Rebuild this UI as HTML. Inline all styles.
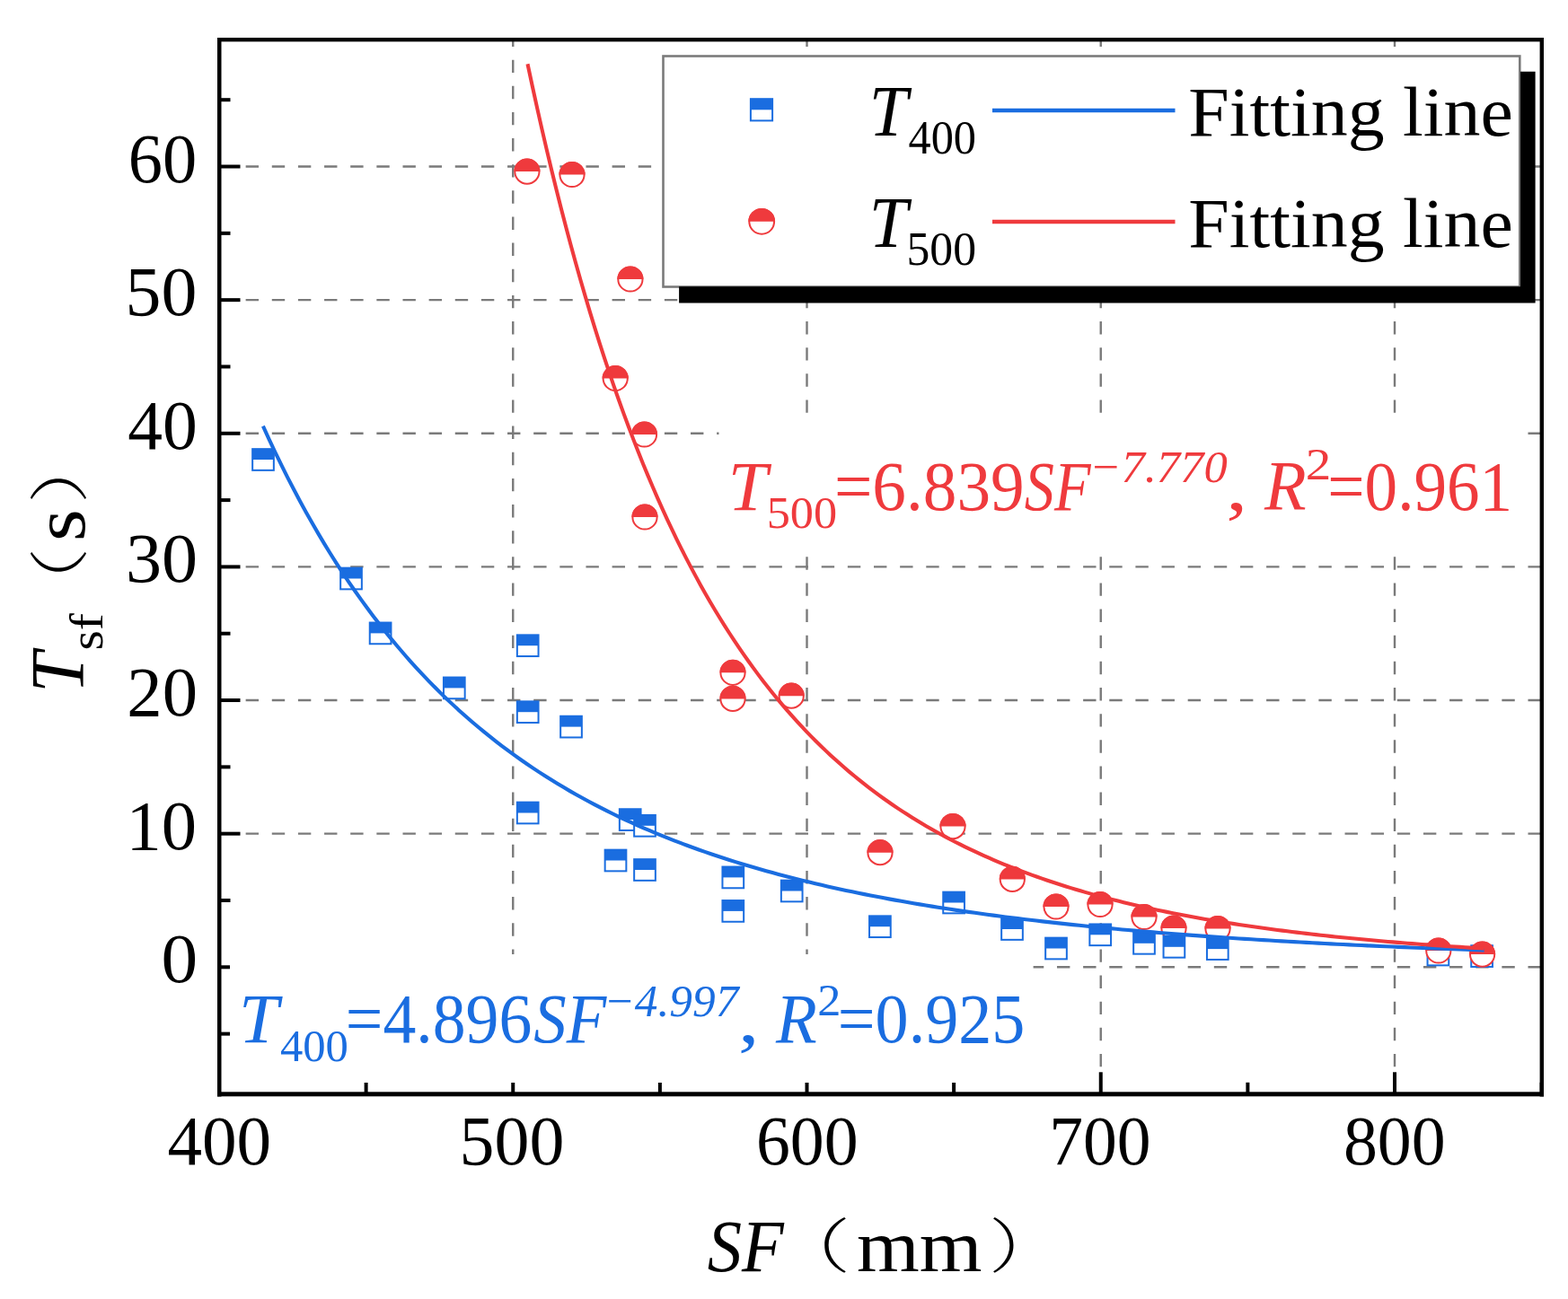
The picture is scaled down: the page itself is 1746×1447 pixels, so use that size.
<!DOCTYPE html>
<html><head><meta charset="utf-8"><title>T_sf vs SF</title>
<style>html,body{margin:0;padding:0;background:#fff;width:1746px;height:1447px;overflow:hidden}text{font-kerning:none;font-variant-ligatures:none}</style>
</head><body>
<svg width="1746" height="1447" viewBox="0 0 1746 1447" style="display:block;font-kerning:none">
<rect x="0" y="0" width="1746" height="1447" fill="#fff"/>
<g stroke="#7a7a7a" stroke-width="2.4" stroke-dasharray="14.4 14.74" fill="none">
<path d="M244.5 1077.30H1716.6"/>
<path d="M244.5 928.67H1716.6"/>
<path d="M244.5 780.04H1716.6"/>
<path d="M244.5 631.41H1716.6"/>
<path d="M244.5 482.78H1716.6"/>
<path d="M244.5 334.15H1716.6"/>
<path d="M244.5 185.52H1716.6"/>
<path d="M571.25 1217.5V44"/>
<path d="M898.50 1217.5V44"/>
<path d="M1225.75 1217.5V44"/>
<path d="M1553.00 1217.5V44"/>
</g>
<g fill="#000">
<rect x="244" y="1149.62" width="12.50" height="4"/>
<rect x="244" y="1075.30" width="23.50" height="4"/>
<rect x="244" y="1000.98" width="12.50" height="4"/>
<rect x="244" y="926.67" width="23.50" height="4"/>
<rect x="244" y="852.36" width="12.50" height="4"/>
<rect x="244" y="778.04" width="23.50" height="4"/>
<rect x="244" y="703.72" width="12.50" height="4"/>
<rect x="244" y="629.41" width="23.50" height="4"/>
<rect x="244" y="555.10" width="12.50" height="4"/>
<rect x="244" y="480.78" width="23.50" height="4"/>
<rect x="244" y="406.46" width="12.50" height="4"/>
<rect x="244" y="332.15" width="23.50" height="4"/>
<rect x="244" y="257.84" width="12.50" height="4"/>
<rect x="244" y="183.52" width="23.50" height="4"/>
<rect x="244" y="109.20" width="12.50" height="4"/>
<rect x="242.00" y="1194.30" width="4" height="24.00"/>
<rect x="405.62" y="1205.80" width="4" height="12.50"/>
<rect x="569.25" y="1194.30" width="4" height="24.00"/>
<rect x="732.88" y="1205.80" width="4" height="12.50"/>
<rect x="896.50" y="1194.30" width="4" height="24.00"/>
<rect x="1060.12" y="1205.80" width="4" height="12.50"/>
<rect x="1223.75" y="1194.30" width="4" height="24.00"/>
<rect x="1387.38" y="1205.80" width="4" height="12.50"/>
<rect x="1551.00" y="1194.30" width="4" height="24.00"/>
<rect x="1714.62" y="1205.80" width="4" height="12.50"/>
</g>
<rect x="800.5" y="465" width="892.5" height="147" fill="#fff"/>
<rect x="256" y="1063" width="894.6" height="143" fill="#fff"/>
<g><rect x="281.15" y="500.15" width="23.70" height="23.70" fill="#fff" stroke="#1a6de0" stroke-width="2"/><rect x="281.15" y="500.15" width="23.70" height="11.85" fill="#1a6de0"/></g>
<g><rect x="379.15" y="632.65" width="23.70" height="23.70" fill="#fff" stroke="#1a6de0" stroke-width="2"/><rect x="379.15" y="632.65" width="23.70" height="11.85" fill="#1a6de0"/></g>
<g><rect x="411.75" y="693.55" width="23.70" height="23.70" fill="#fff" stroke="#1a6de0" stroke-width="2"/><rect x="411.75" y="693.55" width="23.70" height="11.85" fill="#1a6de0"/></g>
<g><rect x="493.95" y="754.55" width="23.70" height="23.70" fill="#fff" stroke="#1a6de0" stroke-width="2"/><rect x="493.95" y="754.55" width="23.70" height="11.85" fill="#1a6de0"/></g>
<g><rect x="575.85" y="707.35" width="23.70" height="23.70" fill="#fff" stroke="#1a6de0" stroke-width="2"/><rect x="575.85" y="707.35" width="23.70" height="11.85" fill="#1a6de0"/></g>
<g><rect x="575.85" y="781.35" width="23.70" height="23.70" fill="#fff" stroke="#1a6de0" stroke-width="2"/><rect x="575.85" y="781.35" width="23.70" height="11.85" fill="#1a6de0"/></g>
<g><rect x="624.15" y="797.75" width="23.70" height="23.70" fill="#fff" stroke="#1a6de0" stroke-width="2"/><rect x="624.15" y="797.75" width="23.70" height="11.85" fill="#1a6de0"/></g>
<g><rect x="575.85" y="893.65" width="23.70" height="23.70" fill="#fff" stroke="#1a6de0" stroke-width="2"/><rect x="575.85" y="893.65" width="23.70" height="11.85" fill="#1a6de0"/></g>
<g><rect x="689.85" y="901.25" width="23.70" height="23.70" fill="#fff" stroke="#1a6de0" stroke-width="2"/><rect x="689.85" y="901.25" width="23.70" height="11.85" fill="#1a6de0"/></g>
<g><rect x="706.15" y="907.95" width="23.70" height="23.70" fill="#fff" stroke="#1a6de0" stroke-width="2"/><rect x="706.15" y="907.95" width="23.70" height="11.85" fill="#1a6de0"/></g>
<g><rect x="673.65" y="946.65" width="23.70" height="23.70" fill="#fff" stroke="#1a6de0" stroke-width="2"/><rect x="673.65" y="946.65" width="23.70" height="11.85" fill="#1a6de0"/></g>
<g><rect x="706.15" y="957.15" width="23.70" height="23.70" fill="#fff" stroke="#1a6de0" stroke-width="2"/><rect x="706.15" y="957.15" width="23.70" height="11.85" fill="#1a6de0"/></g>
<g><rect x="804.45" y="965.55" width="23.70" height="23.70" fill="#fff" stroke="#1a6de0" stroke-width="2"/><rect x="804.45" y="965.55" width="23.70" height="11.85" fill="#1a6de0"/></g>
<g><rect x="804.45" y="1003.05" width="23.70" height="23.70" fill="#fff" stroke="#1a6de0" stroke-width="2"/><rect x="804.45" y="1003.05" width="23.70" height="11.85" fill="#1a6de0"/></g>
<g><rect x="869.85" y="980.65" width="23.70" height="23.70" fill="#fff" stroke="#1a6de0" stroke-width="2"/><rect x="869.85" y="980.65" width="23.70" height="11.85" fill="#1a6de0"/></g>
<g><rect x="968.05" y="1020.35" width="23.70" height="23.70" fill="#fff" stroke="#1a6de0" stroke-width="2"/><rect x="968.05" y="1020.35" width="23.70" height="11.85" fill="#1a6de0"/></g>
<g><rect x="1050.25" y="993.65" width="23.70" height="23.70" fill="#fff" stroke="#1a6de0" stroke-width="2"/><rect x="1050.25" y="993.65" width="23.70" height="11.85" fill="#1a6de0"/></g>
<g><rect x="1115.15" y="1023.15" width="23.70" height="23.70" fill="#fff" stroke="#1a6de0" stroke-width="2"/><rect x="1115.15" y="1023.15" width="23.70" height="11.85" fill="#1a6de0"/></g>
<g><rect x="1164.15" y="1044.65" width="23.70" height="23.70" fill="#fff" stroke="#1a6de0" stroke-width="2"/><rect x="1164.15" y="1044.65" width="23.70" height="11.85" fill="#1a6de0"/></g>
<g><rect x="1213.35" y="1029.45" width="23.70" height="23.70" fill="#fff" stroke="#1a6de0" stroke-width="2"/><rect x="1213.35" y="1029.45" width="23.70" height="11.85" fill="#1a6de0"/></g>
<g><rect x="1262.15" y="1038.95" width="23.70" height="23.70" fill="#fff" stroke="#1a6de0" stroke-width="2"/><rect x="1262.15" y="1038.95" width="23.70" height="11.85" fill="#1a6de0"/></g>
<g><rect x="1589.55" y="1051.65" width="23.70" height="23.70" fill="#fff" stroke="#1a6de0" stroke-width="2"/><rect x="1589.55" y="1051.65" width="23.70" height="11.85" fill="#1a6de0"/></g>
<g><rect x="1638.25" y="1053.25" width="23.70" height="23.70" fill="#fff" stroke="#1a6de0" stroke-width="2"/><rect x="1638.25" y="1053.25" width="23.70" height="11.85" fill="#1a6de0"/></g>
<g><circle cx="586.90" cy="191.10" r="13.60" fill="#fff" stroke="#ef3a3d" stroke-width="2"/><path d="M572.30 191.10A14.60 14.60 0 0 1 601.50 191.10Z" fill="#ef3a3d"/></g>
<g><circle cx="637.00" cy="194.50" r="13.60" fill="#fff" stroke="#ef3a3d" stroke-width="2"/><path d="M622.40 194.50A14.60 14.60 0 0 1 651.60 194.50Z" fill="#ef3a3d"/></g>
<g><circle cx="701.90" cy="311.00" r="13.60" fill="#fff" stroke="#ef3a3d" stroke-width="2"/><path d="M687.30 311.00A14.60 14.60 0 0 1 716.50 311.00Z" fill="#ef3a3d"/></g>
<g><circle cx="685.20" cy="421.50" r="13.60" fill="#fff" stroke="#ef3a3d" stroke-width="2"/><path d="M670.60 421.50A14.60 14.60 0 0 1 699.80 421.50Z" fill="#ef3a3d"/></g>
<g><circle cx="717.50" cy="484.00" r="13.60" fill="#fff" stroke="#ef3a3d" stroke-width="2"/><path d="M702.90 484.00A14.60 14.60 0 0 1 732.10 484.00Z" fill="#ef3a3d"/></g>
<g><circle cx="718.00" cy="576.00" r="13.60" fill="#fff" stroke="#ef3a3d" stroke-width="2"/><path d="M703.40 576.00A14.60 14.60 0 0 1 732.60 576.00Z" fill="#ef3a3d"/></g>
<g><circle cx="816.00" cy="749.30" r="13.60" fill="#fff" stroke="#ef3a3d" stroke-width="2"/><path d="M801.40 749.30A14.60 14.60 0 0 1 830.60 749.30Z" fill="#ef3a3d"/></g>
<g><circle cx="816.00" cy="778.40" r="13.60" fill="#fff" stroke="#ef3a3d" stroke-width="2"/><path d="M801.40 778.40A14.60 14.60 0 0 1 830.60 778.40Z" fill="#ef3a3d"/></g>
<g><circle cx="881.20" cy="775.20" r="13.60" fill="#fff" stroke="#ef3a3d" stroke-width="2"/><path d="M866.60 775.20A14.60 14.60 0 0 1 895.80 775.20Z" fill="#ef3a3d"/></g>
<g><circle cx="980.00" cy="949.70" r="13.60" fill="#fff" stroke="#ef3a3d" stroke-width="2"/><path d="M965.40 949.70A14.60 14.60 0 0 1 994.60 949.70Z" fill="#ef3a3d"/></g>
<g><circle cx="1061.00" cy="920.60" r="13.60" fill="#fff" stroke="#ef3a3d" stroke-width="2"/><path d="M1046.40 920.60A14.60 14.60 0 0 1 1075.60 920.60Z" fill="#ef3a3d"/></g>
<g><circle cx="1127.30" cy="979.40" r="13.60" fill="#fff" stroke="#ef3a3d" stroke-width="2"/><path d="M1112.70 979.40A14.60 14.60 0 0 1 1141.90 979.40Z" fill="#ef3a3d"/></g>
<g><circle cx="1176.00" cy="1010.00" r="13.60" fill="#fff" stroke="#ef3a3d" stroke-width="2"/><path d="M1161.40 1010.00A14.60 14.60 0 0 1 1190.60 1010.00Z" fill="#ef3a3d"/></g>
<g><circle cx="1225.00" cy="1007.50" r="13.60" fill="#fff" stroke="#ef3a3d" stroke-width="2"/><path d="M1210.40 1007.50A14.60 14.60 0 0 1 1239.60 1007.50Z" fill="#ef3a3d"/></g>
<g><circle cx="1274.00" cy="1021.50" r="13.60" fill="#fff" stroke="#ef3a3d" stroke-width="2"/><path d="M1259.40 1021.50A14.60 14.60 0 0 1 1288.60 1021.50Z" fill="#ef3a3d"/></g>
<g><circle cx="1307.00" cy="1034.00" r="13.60" fill="#fff" stroke="#ef3a3d" stroke-width="2"/><path d="M1292.40 1034.00A14.60 14.60 0 0 1 1321.60 1034.00Z" fill="#ef3a3d"/></g>
<g><circle cx="1356.00" cy="1034.50" r="13.60" fill="#fff" stroke="#ef3a3d" stroke-width="2"/><path d="M1341.40 1034.50A14.60 14.60 0 0 1 1370.60 1034.50Z" fill="#ef3a3d"/></g>
<g><circle cx="1601.80" cy="1059.00" r="13.60" fill="#fff" stroke="#ef3a3d" stroke-width="2"/><path d="M1587.20 1059.00A14.60 14.60 0 0 1 1616.40 1059.00Z" fill="#ef3a3d"/></g>
<g><circle cx="1650.60" cy="1063.10" r="13.60" fill="#fff" stroke="#ef3a3d" stroke-width="2"/><path d="M1636.00 1063.10A14.60 14.60 0 0 1 1665.20 1063.10Z" fill="#ef3a3d"/></g>
<g><rect x="1295.55" y="1042.95" width="23.70" height="23.70" fill="#fff" stroke="#1a6de0" stroke-width="2"/><rect x="1295.55" y="1042.95" width="23.70" height="11.85" fill="#1a6de0"/></g>
<g><rect x="1343.95" y="1045.25" width="23.70" height="23.70" fill="#fff" stroke="#1a6de0" stroke-width="2"/><rect x="1343.95" y="1045.25" width="23.70" height="11.85" fill="#1a6de0"/></g>
<path d="M292.90 474.64L299.73 489.58L306.57 504.07L313.40 518.14L320.23 531.80L327.07 545.06L333.90 557.93L340.73 570.43L347.57 582.58L354.40 594.37L361.23 605.83L368.06 616.97L374.90 627.79L381.73 638.30L388.56 648.53L395.40 658.47L402.23 668.13L409.06 677.53L415.90 686.67L422.73 695.56L429.56 704.20L436.40 712.62L443.23 720.81L450.06 728.77L456.90 736.53L463.73 744.08L470.56 751.43L477.40 758.58L484.23 765.55L491.06 772.34L497.89 778.94L504.73 785.38L511.56 791.66L518.39 797.77L525.23 803.72L532.06 809.52L538.89 815.18L545.73 820.69L552.56 826.07L559.39 831.31L566.23 836.42L573.06 841.40L579.89 846.26L586.73 851.00L593.56 855.63L600.39 860.14L607.23 864.54L614.06 868.83L620.89 873.02L627.73 877.11L634.56 881.11L641.39 885.00L648.22 888.81L655.06 892.52L661.89 896.15L668.72 899.69L675.56 903.15L682.39 906.53L689.22 909.83L696.06 913.06L702.89 916.21L709.72 919.28L716.56 922.29L723.39 925.23L730.22 928.10L737.06 930.91L743.89 933.65L750.72 936.34L757.56 938.96L764.39 941.53L771.22 944.03L778.05 946.49L784.89 948.88L791.72 951.23L798.55 953.52L805.39 955.77L812.22 957.97L819.05 960.11L825.89 962.22L832.72 964.27L839.55 966.29L846.39 968.26L853.22 970.19L860.05 972.07L866.89 973.92L873.72 975.73L880.55 977.50L887.39 979.24L894.22 980.94L901.05 982.60L907.88 984.23L914.72 985.82L921.55 987.39L928.38 988.92L935.22 990.42L942.05 991.88L948.88 993.32L955.72 994.73L962.55 996.12L969.38 997.47L976.22 998.80L983.05 1000.10L989.88 1001.37L996.72 1002.62L1003.55 1003.85L1010.38 1005.05L1017.22 1006.23L1024.05 1007.38L1030.88 1008.52L1037.72 1009.63L1044.55 1010.72L1051.38 1011.78L1058.21 1012.83L1065.05 1013.86L1071.88 1014.87L1078.71 1015.86L1085.55 1016.83L1092.38 1017.78L1099.21 1018.71L1106.05 1019.63L1112.88 1020.53L1119.71 1021.41L1126.55 1022.28L1133.38 1023.13L1140.21 1023.96L1147.05 1024.78L1153.88 1025.58L1160.71 1026.37L1167.55 1027.15L1174.38 1027.91L1181.21 1028.65L1188.04 1029.39L1194.88 1030.11L1201.71 1030.81L1208.54 1031.51L1215.38 1032.19L1222.21 1032.86L1229.04 1033.52L1235.88 1034.16L1242.71 1034.80L1249.54 1035.42L1256.38 1036.04L1263.21 1036.64L1270.04 1037.23L1276.88 1037.81L1283.71 1038.38L1290.54 1038.94L1297.38 1039.50L1304.21 1040.04L1311.04 1040.57L1317.87 1041.09L1324.71 1041.61L1331.54 1042.11L1338.37 1042.61L1345.21 1043.10L1352.04 1043.58L1358.87 1044.05L1365.71 1044.52L1372.54 1044.98L1379.37 1045.43L1386.21 1045.87L1393.04 1046.30L1399.87 1046.73L1406.71 1047.15L1413.54 1047.56L1420.37 1047.97L1427.21 1048.37L1434.04 1048.76L1440.87 1049.15L1447.71 1049.53L1454.54 1049.90L1461.37 1050.27L1468.20 1050.64L1475.04 1050.99L1481.87 1051.34L1488.70 1051.69L1495.54 1052.03L1502.37 1052.36L1509.20 1052.69L1516.04 1053.02L1522.87 1053.34L1529.70 1053.65L1536.54 1053.96L1543.37 1054.26L1550.20 1054.56L1557.04 1054.86L1563.87 1055.15L1570.70 1055.43L1577.54 1055.71L1584.37 1055.99L1591.20 1056.26L1598.03 1056.53L1604.87 1056.80L1611.70 1057.06L1618.53 1057.31L1625.37 1057.57L1632.20 1057.82L1639.03 1058.06L1645.87 1058.30L1652.70 1058.54" fill="none" stroke="#1a6de0" stroke-width="4.1" stroke-linejoin="round"/>
<path d="M587.50 71.21L592.85 96.28L598.21 120.66L603.56 144.35L608.91 167.38L614.26 189.77L619.62 211.55L624.97 232.72L630.32 253.31L635.67 273.33L641.03 292.81L646.38 311.76L651.73 330.19L657.09 348.12L662.44 365.57L667.79 382.55L673.14 399.08L678.50 415.16L683.85 430.81L689.20 446.05L694.56 460.88L699.91 475.32L705.26 489.38L710.61 503.07L715.97 516.41L721.32 529.39L726.67 542.04L732.02 554.36L737.38 566.35L742.73 578.04L748.08 589.43L753.44 600.53L758.79 611.34L764.14 621.88L769.49 632.15L774.85 642.15L780.20 651.91L785.55 661.42L790.91 670.69L796.26 679.73L801.61 688.54L806.96 697.13L812.32 705.51L817.67 713.68L823.02 721.65L828.37 729.42L833.73 737.00L839.08 744.40L844.43 751.61L849.79 758.65L855.14 765.52L860.49 772.22L865.84 778.76L871.20 785.14L876.55 791.36L881.90 797.44L887.25 803.38L892.61 809.17L897.96 814.82L903.31 820.34L908.67 825.73L914.02 830.99L919.37 836.13L924.72 841.15L930.08 846.05L935.43 850.83L940.78 855.51L946.14 860.07L951.49 864.53L956.84 868.89L962.19 873.15L967.55 877.30L972.90 881.37L978.25 885.34L983.60 889.22L988.96 893.01L994.31 896.72L999.66 900.34L1005.02 903.88L1010.37 907.34L1015.72 910.72L1021.07 914.03L1026.43 917.26L1031.78 920.42L1037.13 923.51L1042.48 926.53L1047.84 929.49L1053.19 932.38L1058.54 935.21L1063.90 937.97L1069.25 940.68L1074.60 943.32L1079.95 945.91L1085.31 948.44L1090.66 950.91L1096.01 953.34L1101.37 955.71L1106.72 958.03L1112.07 960.30L1117.42 962.52L1122.78 964.69L1128.13 966.82L1133.48 968.90L1138.83 970.94L1144.19 972.93L1149.54 974.89L1154.89 976.80L1160.25 978.67L1165.60 980.50L1170.95 982.30L1176.30 984.05L1181.66 985.77L1187.01 987.46L1192.36 989.11L1197.72 990.72L1203.07 992.30L1208.42 993.85L1213.77 995.37L1219.13 996.86L1224.48 998.31L1229.83 999.74L1235.18 1001.14L1240.54 1002.51L1245.89 1003.85L1251.24 1005.16L1256.60 1006.45L1261.95 1007.71L1267.30 1008.95L1272.65 1010.16L1278.01 1011.35L1283.36 1012.51L1288.71 1013.65L1294.06 1014.77L1299.42 1015.87L1304.77 1016.94L1310.12 1018.00L1315.48 1019.03L1320.83 1020.04L1326.18 1021.03L1331.53 1022.01L1336.89 1022.96L1342.24 1023.90L1347.59 1024.82L1352.95 1025.72L1358.30 1026.60L1363.65 1027.46L1369.00 1028.31L1374.36 1029.15L1379.71 1029.96L1385.06 1030.76L1390.41 1031.55L1395.77 1032.32L1401.12 1033.08L1406.47 1033.82L1411.83 1034.55L1417.18 1035.26L1422.53 1035.96L1427.88 1036.65L1433.24 1037.32L1438.59 1037.99L1443.94 1038.64L1449.29 1039.27L1454.65 1039.90L1460.00 1040.51L1465.35 1041.12L1470.71 1041.71L1476.06 1042.29L1481.41 1042.86L1486.76 1043.42L1492.12 1043.97L1497.47 1044.51L1502.82 1045.04L1508.18 1045.56L1513.53 1046.07L1518.88 1046.57L1524.23 1047.06L1529.59 1047.55L1534.94 1048.02L1540.29 1048.49L1545.64 1048.95L1551.00 1049.40L1556.35 1049.84L1561.70 1050.27L1567.06 1050.70L1572.41 1051.12L1577.76 1051.53L1583.11 1051.93L1588.47 1052.33L1593.82 1052.72L1599.17 1053.10L1604.53 1053.48L1609.88 1053.85L1615.23 1054.21L1620.58 1054.57L1625.94 1054.92L1631.29 1055.26L1636.64 1055.60L1641.99 1055.93L1647.35 1056.26L1652.70 1056.58" fill="none" stroke="#ef3a3d" stroke-width="4.1" stroke-linejoin="round"/>
<g fill="#000"><rect x="242" y="42" width="4.5" height="1179.5"/><rect x="1714.6" y="42" width="4.4" height="1179.5"/><rect x="242" y="42" width="1477" height="4.4"/><rect x="242" y="1216.3" width="1477" height="5"/></g>
<rect x="738.5" y="62.5" width="953.8" height="257" fill="#fff" stroke="#7a7a7a" stroke-width="2.6"/>
<path d="M756.1 319.2H1693V79.8H1709.6V337.5H756.1Z" fill="#000"/>
<g><rect x="835.90" y="110.20" width="24.20" height="24.20" fill="#fff" stroke="#1a6de0" stroke-width="2"/><rect x="835.90" y="110.20" width="24.20" height="12.10" fill="#1a6de0"/></g>
<g><circle cx="848.20" cy="246.80" r="13.90" fill="#fff" stroke="#ef3a3d" stroke-width="2"/><path d="M833.30 246.80A14.90 14.90 0 0 1 863.10 246.80Z" fill="#ef3a3d"/></g>
<path d="M1105 123H1308.5" stroke="#1a6de0" stroke-width="4.4"/>
<path d="M1105 247H1308.5" stroke="#ef3a3d" stroke-width="4.4"/>
<text x="967.74" y="151.00" font-size="80.94" textLength="42.99" lengthAdjust="spacingAndGlyphs" style="font-family:'Liberation Serif',serif;font-style:italic" fill="#000">T</text>
<text x="1011.52" y="171.00" font-size="51.87" textLength="75.50" lengthAdjust="spacingAndGlyphs" style="font-family:'Liberation Serif',serif" fill="#000">400</text>
<text x="1323.24" y="151.00" font-size="78.80" textLength="361.50" lengthAdjust="spacingAndGlyphs" style="font-family:'Liberation Serif',serif" fill="#000">Fitting line</text>
<text x="967.74" y="274.80" font-size="80.94" textLength="42.99" lengthAdjust="spacingAndGlyphs" style="font-family:'Liberation Serif',serif;font-style:italic" fill="#000">T</text>
<text x="1009.49" y="294.80" font-size="51.87" textLength="77.57" lengthAdjust="spacingAndGlyphs" style="font-family:'Liberation Serif',serif" fill="#000">500</text>
<text x="1323.24" y="274.80" font-size="78.80" textLength="361.50" lengthAdjust="spacingAndGlyphs" style="font-family:'Liberation Serif',serif" fill="#000">Fitting line</text>
<text x="142.71" y="202.52" font-size="79.13" textLength="76.50" lengthAdjust="spacingAndGlyphs" style="font-family:'Liberation Serif',serif" fill="#000">60</text>
<text x="139.46" y="351.15" font-size="79.13" textLength="79.88" lengthAdjust="spacingAndGlyphs" style="font-family:'Liberation Serif',serif" fill="#000">50</text>
<text x="142.28" y="499.78" font-size="79.13" textLength="77.68" lengthAdjust="spacingAndGlyphs" style="font-family:'Liberation Serif',serif" fill="#000">40</text>
<text x="139.97" y="648.41" font-size="79.13" textLength="80.08" lengthAdjust="spacingAndGlyphs" style="font-family:'Liberation Serif',serif" fill="#000">30</text>
<text x="141.34" y="797.04" font-size="79.13" textLength="78.65" lengthAdjust="spacingAndGlyphs" style="font-family:'Liberation Serif',serif" fill="#000">20</text>
<text x="140.39" y="945.67" font-size="79.13" textLength="78.60" lengthAdjust="spacingAndGlyphs" style="font-family:'Liberation Serif',serif" fill="#000">10</text>
<text x="179.40" y="1094.30" font-size="79.13" textLength="40.70" lengthAdjust="spacingAndGlyphs" style="font-family:'Liberation Serif',serif" fill="#000">0</text>
<text x="186.39" y="1297.00" font-size="79.13" textLength="115.75" lengthAdjust="spacingAndGlyphs" style="font-family:'Liberation Serif',serif" fill="#000">400</text>
<text x="511.58" y="1297.00" font-size="79.13" textLength="116.79" lengthAdjust="spacingAndGlyphs" style="font-family:'Liberation Serif',serif" fill="#000">500</text>
<text x="841.94" y="1297.00" font-size="79.13" textLength="113.64" lengthAdjust="spacingAndGlyphs" style="font-family:'Liberation Serif',serif" fill="#000">600</text>
<text x="1168.22" y="1297.00" font-size="79.13" textLength="113.36" lengthAdjust="spacingAndGlyphs" style="font-family:'Liberation Serif',serif" fill="#000">700</text>
<text x="1495.91" y="1297.00" font-size="79.13" textLength="113.67" lengthAdjust="spacingAndGlyphs" style="font-family:'Liberation Serif',serif" fill="#000">800</text>
<text x="787.70" y="1416.00" font-size="82.47" textLength="85.06" lengthAdjust="spacingAndGlyphs" style="font-family:'Liberation Serif',serif;font-style:italic" fill="#000">SF</text>
<text x="954.02" y="1416.00" font-size="82.77" textLength="139.59" lengthAdjust="spacingAndGlyphs" style="font-family:'Liberation Serif',serif" fill="#000">mm</text>
<text x="863.37" y="1412.37" font-size="66.24" textLength="83.92" lengthAdjust="spacingAndGlyphs" style="font-family:'Liberation Serif','Noto Serif CJK SC',serif;font-weight:200" fill="#000">（</text>
<text x="1100.98" y="1412.37" font-size="66.24" textLength="79.72" lengthAdjust="spacingAndGlyphs" style="font-family:'Liberation Serif','Noto Serif CJK SC',serif;font-weight:200" fill="#000">）</text>
<g transform="rotate(-90)">
<text x="-771.98" y="93.00" font-size="84.30" textLength="45.72" lengthAdjust="spacingAndGlyphs" style="font-family:'Liberation Serif',serif;font-style:italic" fill="#000">T</text>
<text x="-724.55" y="114.30" font-size="53.44" textLength="41.35" lengthAdjust="spacingAndGlyphs" style="font-family:'Liberation Serif',serif" fill="#000">sf</text>
<text x="-603.07" y="94.00" font-size="83.17" textLength="35.80" lengthAdjust="spacingAndGlyphs" style="font-family:'Liberation Serif',serif" fill="#000">s</text>
<text x="-687.20" y="89.53" font-size="66.67" textLength="77.27" lengthAdjust="spacingAndGlyphs" style="font-family:'Liberation Serif','Noto Serif CJK SC',serif;font-weight:200" fill="#000">（</text>
<text x="-561.31" y="89.53" font-size="66.67" textLength="81.12" lengthAdjust="spacingAndGlyphs" style="font-family:'Liberation Serif','Noto Serif CJK SC',serif;font-weight:200" fill="#000">）</text>
</g>
<text x="810.85" y="567.60" font-size="78.65" textLength="43.80" lengthAdjust="spacingAndGlyphs" style="font-family:'Liberation Serif',serif;font-style:italic" fill="#ef3a3d">T</text>
<text x="853.66" y="588.00" font-size="49.64" textLength="78.54" lengthAdjust="spacingAndGlyphs" style="font-family:'Liberation Serif',serif" fill="#ef3a3d">500</text>
<text x="928.95" y="567.60" font-size="78.65" textLength="211.73" lengthAdjust="spacingAndGlyphs" style="font-family:'Liberation Serif',serif" fill="#ef3a3d">=6.839</text>
<text x="1140.72" y="567.60" font-size="78.65" textLength="73.73" lengthAdjust="spacingAndGlyphs" style="font-family:'Liberation Serif',serif;font-style:italic" fill="#ef3a3d">SF</text>
<text x="1213.02" y="537.00" font-size="50.98" textLength="153.64" lengthAdjust="spacingAndGlyphs" style="font-family:'Liberation Serif',serif;font-style:italic" fill="#ef3a3d">−7.770</text>
<text x="1365.34" y="567.60" font-size="78.65" textLength="24.01" lengthAdjust="spacingAndGlyphs" style="font-family:'Liberation Serif',serif" fill="#ef3a3d">,</text>
<text x="1408.01" y="567.30" font-size="78.65" textLength="46.66" lengthAdjust="spacingAndGlyphs" style="font-family:'Liberation Serif',serif;font-style:italic" fill="#ef3a3d">R</text>
<text x="1453.79" y="534.40" font-size="50.98" textLength="28.56" lengthAdjust="spacingAndGlyphs" style="font-family:'Liberation Serif',serif" fill="#ef3a3d">2</text>
<text x="1478.36" y="567.60" font-size="78.65" textLength="205.73" lengthAdjust="spacingAndGlyphs" style="font-family:'Liberation Serif',serif" fill="#ef3a3d">=0.961</text>
<text x="266.11" y="1160.60" font-size="78.65" textLength="44.10" lengthAdjust="spacingAndGlyphs" style="font-family:'Liberation Serif',serif;font-style:italic" fill="#1a6de0">T</text>
<text x="311.91" y="1181.50" font-size="49.64" textLength="76.02" lengthAdjust="spacingAndGlyphs" style="font-family:'Liberation Serif',serif" fill="#1a6de0">400</text>
<text x="384.83" y="1160.60" font-size="78.65" textLength="207.47" lengthAdjust="spacingAndGlyphs" style="font-family:'Liberation Serif',serif" fill="#1a6de0">=4.896</text>
<text x="594.35" y="1160.60" font-size="78.65" textLength="80.85" lengthAdjust="spacingAndGlyphs" style="font-family:'Liberation Serif',serif;font-style:italic" fill="#1a6de0">SF</text>
<text x="672.15" y="1131.50" font-size="50.98" textLength="150.29" lengthAdjust="spacingAndGlyphs" style="font-family:'Liberation Serif',serif;font-style:italic" fill="#1a6de0">−4.997</text>
<text x="822.02" y="1160.60" font-size="78.65" textLength="23.50" lengthAdjust="spacingAndGlyphs" style="font-family:'Liberation Serif',serif" fill="#1a6de0">,</text>
<text x="863.90" y="1161.20" font-size="78.65" textLength="45.74" lengthAdjust="spacingAndGlyphs" style="font-family:'Liberation Serif',serif;font-style:italic" fill="#1a6de0">R</text>
<text x="910.30" y="1130.50" font-size="50.98" textLength="26.19" lengthAdjust="spacingAndGlyphs" style="font-family:'Liberation Serif',serif" fill="#1a6de0">2</text>
<text x="932.81" y="1160.60" font-size="78.65" textLength="208.59" lengthAdjust="spacingAndGlyphs" style="font-family:'Liberation Serif',serif" fill="#1a6de0">=0.925</text>
</svg>
</body></html>
